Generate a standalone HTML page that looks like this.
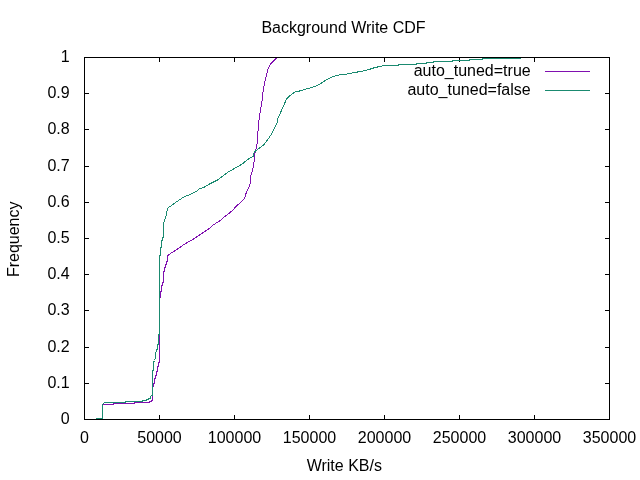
<!DOCTYPE html>
<html><head><meta charset="utf-8"><style>
html,body{margin:0;padding:0;background:#fff;}
svg{display:block;will-change:transform;}
text{font-family:"Liberation Sans",sans-serif;font-size:16px;fill:#000;}
</style></head><body>
<svg width="640" height="480" viewBox="0 0 640 480">
<rect width="640" height="480" fill="#fff"/>
<text x="343.5" y="32.5" text-anchor="middle">Background Write CDF</text>
<g stroke="#000" stroke-width="1" fill="none" shape-rendering="crispEdges">
<path d="M84.5,419.5h4M609.5,419.5h-4.8"/><path d="M84.5,383.5h4M609.5,383.5h-4.8"/><path d="M84.5,347.5h4M609.5,347.5h-4.8"/><path d="M84.5,310.5h4M609.5,310.5h-4.8"/><path d="M84.5,274.5h4M609.5,274.5h-4.8"/><path d="M84.5,238.5h4M609.5,238.5h-4.8"/><path d="M84.5,202.5h4M609.5,202.5h-4.8"/><path d="M84.5,166.5h4M609.5,166.5h-4.8"/><path d="M84.5,129.5h4M609.5,129.5h-4.8"/><path d="M84.5,93.5h4M609.5,93.5h-4.8"/><path d="M84.5,57.5h4M609.5,57.5h-4.8"/><path d="M84.5,419.5v-4.5M84.5,57.5v4"/><path d="M159.5,419.5v-4.5M159.5,57.5v4"/><path d="M234.5,419.5v-4.5M234.5,57.5v4"/><path d="M309.5,419.5v-4.5M309.5,57.5v4"/><path d="M384.5,419.5v-4.5M384.5,57.5v4"/><path d="M459.5,419.5v-4.5M459.5,57.5v4"/><path d="M534.5,419.5v-4.5M534.5,57.5v4"/><path d="M609.5,419.5v-4.5M609.5,57.5v4"/>
</g>
<text x="69.7" y="423.5" text-anchor="end">0</text><text x="69.7" y="387.5" text-anchor="end">0.1</text><text x="69.7" y="351.5" text-anchor="end">0.2</text><text x="69.7" y="314.5" text-anchor="end">0.3</text><text x="69.7" y="278.5" text-anchor="end">0.4</text><text x="69.7" y="242.5" text-anchor="end">0.5</text><text x="69.7" y="206.5" text-anchor="end">0.6</text><text x="69.7" y="170.5" text-anchor="end">0.7</text><text x="69.7" y="133.5" text-anchor="end">0.8</text><text x="69.7" y="97.5" text-anchor="end">0.9</text><text x="69.7" y="61.5" text-anchor="end">1</text>
<text x="84.5" y="443.3" text-anchor="middle">0</text><text x="159.5" y="443.3" text-anchor="middle">50000</text><text x="234.5" y="443.3" text-anchor="middle">100000</text><text x="309.5" y="443.3" text-anchor="middle">150000</text><text x="384.5" y="443.3" text-anchor="middle">200000</text><text x="459.5" y="443.3" text-anchor="middle">250000</text><text x="534.5" y="443.3" text-anchor="middle">300000</text><text x="609.5" y="443.3" text-anchor="middle">350000</text>
<text x="344.3" y="470.9" text-anchor="middle">Write KB/s</text>
<text transform="translate(18.5,239.3) rotate(-90)" text-anchor="middle">Frequency</text>
<text x="530.7" y="75.6" text-anchor="end">auto_tuned=true</text>
<text x="530.7" y="94.6" text-anchor="end">auto_tuned=false</text>
<g fill="none" stroke-width="1" stroke-linejoin="miter">
<path d="M544.5,71.5H590" stroke="#8010b0" shape-rendering="crispEdges"/>
<path d="M544.5,90.5H590" stroke="#1a8a70" shape-rendering="crispEdges"/>
<polyline points="102.50,418.50 102.50,404.50 113.50,404.50 113.50,403.50 134.50,403.50 134.50,402.50 149.50,402.50 149.50,401.50 151.00,401.50 151.00,400.50 152.50,400.50 152.50,386.50 153.50,386.50 153.50,384.00 154.50,383.50 154.50,378.50 155.50,378.50 155.50,375.00 156.50,375.00 156.50,371.00 157.50,371.00 157.50,366.30 158.50,366.30 158.50,362.70 159.50,362.70 159.50,297.50 160.50,297.50 160.50,291.60 161.50,291.60 161.50,285.40 162.50,285.40 162.50,282.30 163.50,282.30 163.50,271.00 164.50,271.00 164.50,267.70 165.50,267.70 165.50,264.75 166.50,264.75 166.50,261.80 167.50,261.80 167.50,255.60 168.50,255.60 168.50,254.60 169.60,254.20 172.50,252.20 175.80,250.20 179.20,247.90 182.50,245.50 184.00,244.40 188.40,242.00 192.70,239.50 197.10,236.60 201.50,233.80 205.90,230.80 210.20,227.70 212.90,225.10 217.20,222.50 220.70,220.30 224.40,216.75 228.75,213.70 233.10,209.75 235.75,206.70 240.10,202.75 244.50,198.40 245.40,195.30 247.10,190.50 248.90,187.00 250.20,183.50 250.50,182.00 250.75,175.90 251.60,173.25 252.50,170.60 253.40,165.40 254.25,160.10 254.90,153.10 256.00,148.75 256.90,144.40 257.60,140.00 257.70,136.50 258.50,123.40 259.45,116.40 260.50,110.25 261.50,103.25 262.40,100.00 263.00,92.50 264.40,84.00 265.40,79.40 266.30,75.60 267.70,70.00 270.00,64.80 272.90,61.60 275.70,58.75 278.50,57.50" stroke="#8010b0" shape-rendering="crispEdges"/>
<polyline points="95.50,418.50 102.50,418.50 102.50,404.50 103.50,403.50 104.50,402.50 125.50,402.50 125.50,401.50 142.00,401.50 142.00,400.50 146.00,400.50 146.00,399.50 148.00,399.50 148.00,398.50 150.00,398.50 150.50,397.00 151.50,395.50 152.50,395.00 152.50,370.50 153.50,370.50 153.50,362.50 154.50,360.50 155.50,358.00 155.50,354.50 156.50,350.00 157.50,349.00 157.50,345.00 158.50,344.00 158.50,334.00 159.50,334.00 159.50,255.60 160.50,255.60 160.50,247.25 161.50,247.25 161.50,240.20 162.50,240.20 162.50,237.25 163.50,237.00 163.50,224.25 164.50,220.50 165.50,217.50 166.50,214.50 167.50,208.50 168.50,207.40 169.75,206.75 172.75,204.50 176.50,201.90 180.25,199.25 184.00,197.00 188.50,195.10 193.00,192.90 196.00,191.75 199.00,189.10 204.00,187.25 208.75,184.40 217.50,180.00 227.50,172.50 235.00,168.10 242.00,164.10 246.40,160.60 250.75,157.50 253.40,156.20 253.80,153.10 256.00,150.50 260.40,147.50 264.00,144.50 268.00,139.30 272.00,133.30 275.00,127.00 277.00,123.00 277.50,119.00 280.00,114.00 282.00,109.00 284.00,105.00 286.30,99.30 288.70,97.00 291.80,94.00 295.70,91.80 299.60,91.00 304.30,89.50 309.00,88.20 313.70,86.80 317.60,85.30 320.70,83.60 323.00,82.10 326.20,79.80 329.30,78.30 335.60,75.60 341.25,74.50 346.90,74.00 352.50,72.90 358.10,71.90 363.75,70.90 369.40,69.40 375.00,67.50 380.60,66.40 383.40,65.50 398.00,65.50 398.00,64.50 416.00,64.50 416.00,63.50 426.00,63.50 426.00,62.50 433.00,62.50 433.00,61.50 452.70,61.50 452.70,60.50 469.50,60.50 469.50,59.50 482.50,59.50 482.50,58.50 520.00,58.50 520.00,57.50" stroke="#1a8a70" shape-rendering="crispEdges"/>
</g>
<rect x="84.5" y="57.5" width="525.0" height="362.0" fill="none" stroke="#000" stroke-width="1" shape-rendering="crispEdges"/>
</svg>
</body></html>
